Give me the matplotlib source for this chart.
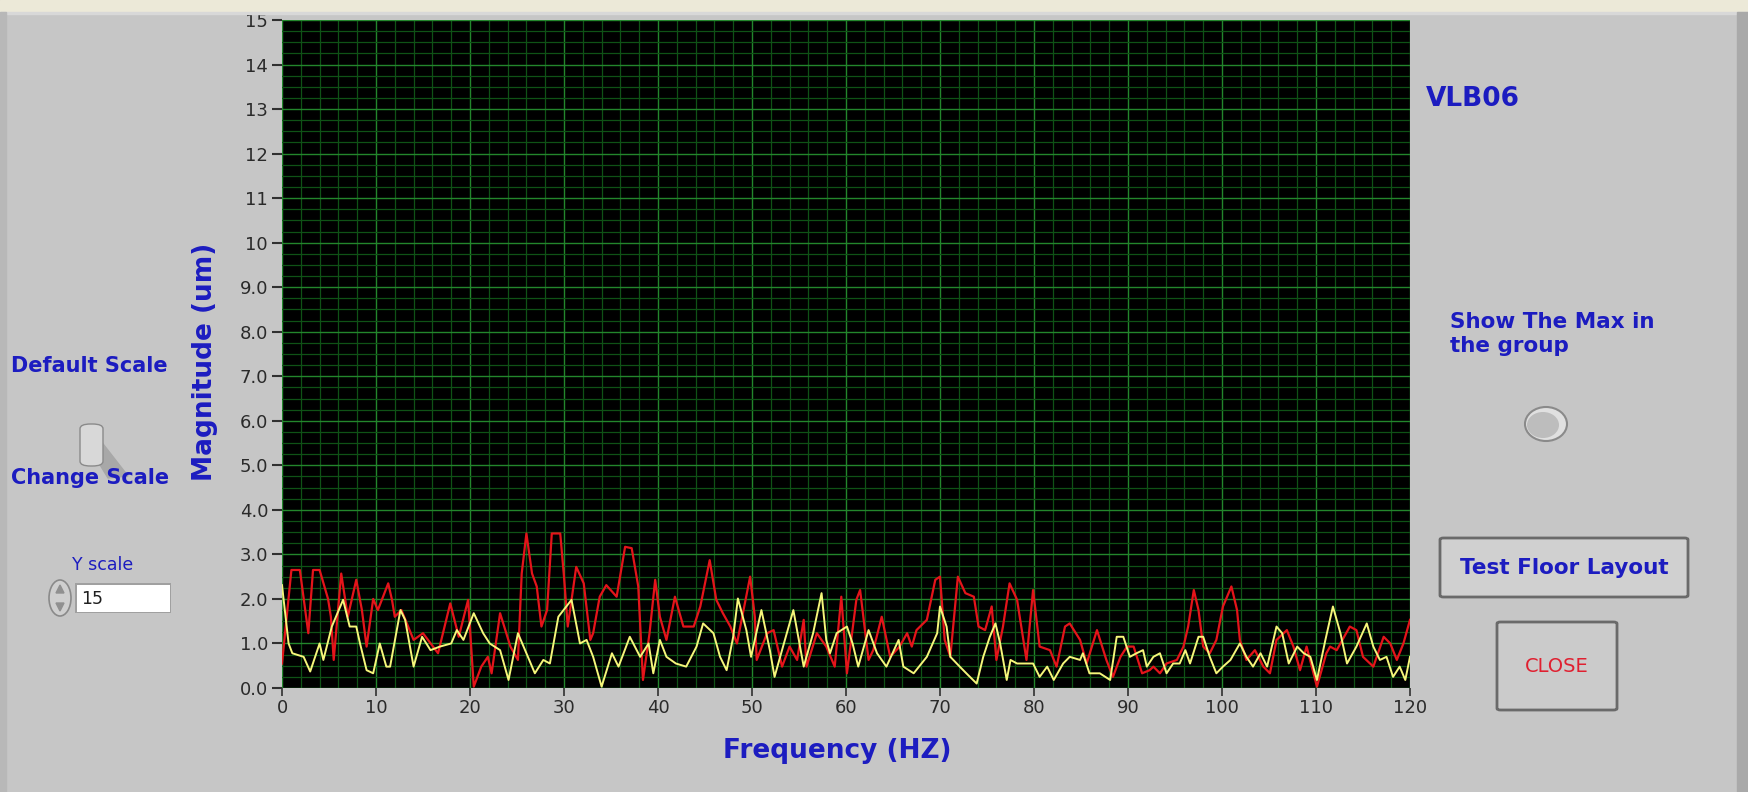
import matplotlib as mplt
mplt.use("Agg")
import matplotlib.pyplot as plt
from matplotlib.patches import FancyBboxPatch, Rectangle, Ellipse, Polygon
import numpy as np

W, H = 1749, 792

PANEL_BG = '#c6c6c6'
TITLE_BAR = '#ece9d8'
LABEL_BLUE = '#1c1cc0'

# Spectrum: (frequency Hz, magnitude um)
red_freq = [0, 1.0, 1.9, 2.8, 3.3, 4.0, 4.9, 5.2, 5.5, 6.3, 7.0, 7.9, 8.5, 9.0, 9.7, 10.2, 11.3, 11.7,
            12.0, 12.7, 14.0, 15.0, 16.6, 17.9, 18.8, 19.8, 20.4, 21.2, 21.9, 22.3, 23.2, 24.3, 25.1,
            25.5, 26.0, 26.6, 27.1, 27.6, 28.2, 28.7, 29.6, 30.0, 30.4, 31.3, 32.1, 32.8, 33.1, 33.8,
            34.5, 35.6, 36.5, 37.2, 37.9, 38.4, 39.1, 39.7, 40.2, 40.9, 41.8, 42.7, 43.8, 44.5, 45.5,
            46.2, 46.9, 47.7, 48.4, 49.8, 50.3, 50.5, 51.6, 52.3, 53.2, 54.0, 54.8, 55.5, 55.8, 56.9,
            57.9, 58.8, 59.5, 60.1, 61.1, 61.5, 62.4, 62.9, 63.8, 64.7, 65.7, 66.5, 67.0, 67.5, 68.6,
            69.5, 70.0, 70.5, 71.1, 71.9, 72.7, 73.6, 74.1, 74.8, 75.5, 76.0, 76.7, 77.4, 78.2, 79.2,
            79.9, 80.6, 81.7, 82.4, 83.3, 83.8, 84.9, 85.6, 86.7, 87.7, 88.4, 89.2, 89.9, 90.6, 91.5,
            92.3, 92.7, 93.4, 94.1, 95.2, 95.9, 96.4, 97.0, 97.5, 98.0, 98.7, 99.4, 100.1, 101.0,
            101.6, 101.9, 102.6, 103.5, 104.4, 105.1, 105.8, 106.9, 107.6, 108.3, 109.0, 110.1,
            111.1, 111.5, 112.2, 113.6, 114.3, 115.0, 116.1, 117.2, 117.9, 118.6, 119.3, 120.0]
red_mag = [0.55, 2.65, 2.65, 1.23, 2.65, 2.65, 2.0, 1.6, 0.63, 2.57, 1.6, 2.43, 1.75, 0.93, 2.0, 1.75, 2.35, 1.98,
           1.6, 1.75, 1.08, 1.23, 0.78, 1.9, 1.15, 1.98, 0.03, 0.48, 0.7, 0.33, 1.68, 0.93, 0.63,
           2.57, 3.47, 2.57, 2.28, 1.38, 1.75, 3.47, 3.47, 2.5, 1.38, 2.72, 2.35, 1.08, 1.23, 2.05,
           2.31, 2.05, 3.17, 3.14, 2.28, 0.18, 1.23, 2.43, 1.6, 1.08, 2.05, 1.38, 1.38, 1.83, 2.87,
           1.98, 1.68, 1.38, 1.0, 2.5, 1.6, 0.63, 1.23, 1.3, 0.48, 0.93, 0.63, 1.53, 0.48, 1.23,
           0.93, 0.48, 2.05, 0.33, 1.98, 2.2, 0.63, 0.85, 1.6, 0.7, 0.93, 1.23, 0.93, 1.3, 1.53,
           2.43, 2.5, 1.08, 0.7, 2.5, 2.13, 2.05, 1.38, 1.3, 1.83, 0.63, 1.38, 2.35, 1.98, 0.63,
           2.2, 0.93, 0.85, 0.48, 1.38, 1.45, 1.08, 0.55, 1.3, 0.63, 0.25, 0.7, 0.93, 0.93, 0.33,
           0.4, 0.48, 0.33, 0.55, 0.63, 0.93, 1.38, 2.2, 1.75, 0.93, 0.78, 1.08, 1.83, 2.28,
           1.75, 1.08, 0.63, 0.85, 0.48, 0.33, 1.08, 1.3, 0.93, 0.4, 0.93, 0.03,
           0.78, 0.93, 0.85, 1.38, 1.3, 0.7, 0.48, 1.15, 1.0, 0.63, 1.0, 1.53]

yellow_freq = [0, 0.7, 1.1, 2.3, 3.0, 4.0, 4.4, 5.3, 6.5, 7.2, 7.9, 8.3, 9.0, 9.7, 10.4, 11.1, 11.5, 12.6,
               13.1, 14.0, 14.9, 15.8, 16.8, 18.0, 18.6, 19.3, 20.4, 21.4, 22.1, 23.2, 24.1, 25.1, 25.7,
               26.9, 27.8, 28.5, 29.4, 30.8, 31.7, 32.4, 33.1, 34.0, 35.1, 35.8, 37.0, 38.1, 39.0, 39.5,
               40.2, 40.9, 41.9, 43.0, 44.1, 44.8, 45.9, 46.6, 47.3, 48.0, 48.5, 49.4, 49.9, 51.0, 51.9,
               52.4, 53.3, 54.4, 55.5, 56.5, 57.4, 57.9, 58.3, 59.0, 60.1, 60.7, 61.3, 62.4, 63.3, 64.3,
               65.6, 66.1, 67.2, 68.6, 69.7, 70.0, 70.7, 71.1, 72.1, 72.8, 73.9, 74.6, 75.3, 75.9, 76.4,
               77.1, 77.5, 78.2, 79.2, 79.9, 80.6, 81.4, 82.1, 83.1, 83.8, 84.9, 85.2, 85.9, 87.0, 88.1,
               88.8, 89.5, 90.2, 90.9, 91.6, 92.0, 92.7, 93.4, 94.1, 94.8, 95.5, 96.1, 96.6, 97.5, 98.0,
               98.7, 99.4, 100.1, 100.9, 101.9, 102.6, 103.3, 104.1, 104.8, 105.8, 106.4, 107.1, 108.0,
               108.7, 109.4, 110.1, 111.0, 111.8, 112.6, 113.3, 114.3, 115.4, 116.1, 116.8, 117.5,
               118.2, 118.9, 119.5, 120.0]
yellow_mag = [2.31, 1.0, 0.78, 0.7, 0.37, 1.0, 0.63, 1.38, 1.98, 1.38, 1.38, 1.0, 0.4, 0.33, 1.0, 0.48, 0.48, 1.75,
              1.53, 0.48, 1.15, 0.85, 0.93, 1.0, 1.3, 1.08, 1.68, 1.23, 1.0, 0.85, 0.18, 1.23, 0.93,
              0.33, 0.63, 0.55, 1.6, 1.98, 1.0, 1.08, 0.7, 0.03, 0.78, 0.48, 1.15, 0.7, 1.0, 0.33,
              1.08, 0.7, 0.55, 0.48, 0.93, 1.45, 1.23, 0.7, 0.4, 1.15, 2.01, 1.3, 0.7, 1.75, 0.85,
              0.25, 0.93, 1.75, 0.48, 1.23, 2.13, 1.08, 0.78, 1.23, 1.38, 1.0, 0.48, 1.3, 0.78, 0.48,
              1.08, 0.48, 0.33, 0.7, 1.23, 1.83, 1.38, 0.7, 0.48, 0.33, 0.1, 0.7, 1.15, 1.45, 1.0,
              0.18, 0.63, 0.55, 0.55, 0.55, 0.25, 0.48, 0.18, 0.55, 0.7, 0.63, 0.78, 0.33, 0.33, 0.18,
              1.15, 1.15, 0.7, 0.78, 0.85, 0.48, 0.7, 0.78, 0.33, 0.55, 0.55, 0.85, 0.55, 1.15, 1.15,
              0.7, 0.33, 0.48, 0.63, 1.0, 0.7, 0.48, 0.78, 0.48, 1.38, 1.23, 0.55, 0.93,
              0.78, 0.7, 0.18, 1.08, 1.83, 1.23, 0.55, 0.93, 1.45, 0.93, 0.63, 0.7,
              0.25, 0.48, 0.18, 0.7]

y_ticks = list(range(16))
y_tick_labels = ['0.0', '1.0', '2.0', '3.0', '4.0', '5.0', '6.0', '7.0', '8.0', '9.0',
                 '10', '11', '12', '13', '14', '15']
x_ticks = list(range(0, 121, 10))


def fx(px):
    """Screenshot pixel column -> figure fraction."""
    return px / W


def fy(py):
    """Screenshot pixel row (from the top) -> figure fraction."""
    return 1 - py / H


def box(fig, x0, y0, x1, y1, **kw):
    """Rounded box given in screenshot pixels (top-left, bottom-right)."""
    p = FancyBboxPatch((fx(x0), fy(y1)), fx(x1) - fx(x0), fy(y0) - fy(y1),
                       boxstyle=kw.pop('boxstyle', 'round,pad=0,rounding_size=0.002'),
                       transform=fig.transFigure, **kw)
    fig.patches.append(p)
    return p


def rect(fig, x0, y0, x1, y1, **kw):
    p = Rectangle((fx(x0), fy(y1)), fx(x1) - fx(x0), fy(y0) - fy(y1), transform=fig.transFigure, **kw)
    fig.patches.append(p)
    return p


fig = plt.figure(figsize=(W / 100, H / 100), dpi=100, facecolor=PANEL_BG)

# window chrome: beige strip on top, darker frame on the right
rect(fig, 0, 0, W, 12, color=TITLE_BAR, zorder=0)
rect(fig, 0, 12, W, 14, color='#d8d8d8', zorder=0)
rect(fig, 1737, 12, W, H, color='#a9a9a9', zorder=0)
rect(fig, 0, 12, 6, H, color='#b8b8b8', zorder=0)

# --- the spectrum graph ---
ax = fig.add_axes([fx(282), fy(688), fx(1410) - fx(282), fy(20) - fy(688)])
ax.set_facecolor('black')
ax.set_xlim(0, 120)
ax.set_ylim(0, 15)

ax.set_xticks(np.arange(0, 121, 2), minor=True)
ax.set_yticks(np.arange(0, 15.01, 0.25), minor=True)
ax.grid(True, which='minor', color='#0f5216', linewidth=0.9)
ax.grid(True, which='major', color='#23862c', linewidth=1.0)
ax.set_axisbelow(True)

ax.plot(red_freq, red_mag, color='#e4141a', linewidth=1.6, zorder=3)
ax.plot(yellow_freq, yellow_mag, color='#f6f67a', linewidth=1.4, zorder=4)

ax.set_yticks(y_ticks)
ax.set_yticklabels(y_tick_labels)
ax.set_xticks(x_ticks)
ax.tick_params(axis='y', which='major', length=7, width=1.5, color='#303030',
               labelsize=13, labelcolor='#2a2a2a', pad=3)
ax.tick_params(axis='x', which='major', length=6, width=1.2, color='#303030',
               labelsize=13, labelcolor='#2a2a2a', pad=2)
ax.tick_params(which='minor', length=0)
for s in ax.spines.values():
    s.set_visible(False)

fig.text(fx(205), fy(362), 'Magnitude (um)', rotation=90, ha='center', va='center',
         fontsize=19, fontweight='bold', color=LABEL_BLUE)
fig.text(fx(837), fy(751), 'Frequency (HZ)', ha='center', va='center',
         fontsize=19, fontweight='bold', color=LABEL_BLUE)

# --- left hand controls ---
bold = dict(fontsize=15, fontweight='bold', color=LABEL_BLUE, va='center')
fig.text(fx(11), fy(366), 'Default Scale', ha='left', **bold)
fig.text(fx(11), fy(478), 'Change Scale', ha='left', **bold)

# toggle switch with its shadow
fig.patches.append(Polygon([(fx(88), fy(445)), (fx(100), fy(440)), (fx(128), fy(476)), (fx(108), fy(478))],
                           closed=True, transform=fig.transFigure, color='#a8a8a8', zorder=1))
box(fig, 80, 424, 103, 466, boxstyle='round,pad=0,rounding_size=0.006',
    facecolor='#d8d8d8', edgecolor='#8a8a8a', linewidth=1, zorder=2)

fig.text(fx(103), fy(565), 'Y scale', ha='center', va='center', fontsize=12.5, color=LABEL_BLUE)
rect(fig, 75, 583, 171, 613, facecolor='#a0a0a0', edgecolor='none', zorder=1)
rect(fig, 77, 585, 170, 612, facecolor='white', edgecolor='none', zorder=2)
fig.text(fx(81), fy(599), '15', ha='left', va='center', fontsize=12.5, color='#202020')
fig.patches.append(Ellipse((fx(60), fy(598)), fx(22), 36 / H, transform=fig.transFigure,
                           facecolor='#cfcfcf', edgecolor='#8a8a8a', linewidth=1.2, zorder=2))
fig.patches.append(Polygon([(fx(56), fy(593)), (fx(64), fy(593)), (fx(60), fy(585))], closed=True,
                           transform=fig.transFigure, color='#909090', zorder=3))
fig.patches.append(Polygon([(fx(56), fy(603)), (fx(64), fy(603)), (fx(60), fy(611))], closed=True,
                           transform=fig.transFigure, color='#909090', zorder=3))

# --- right hand controls ---
fig.text(fx(1426), fy(99), 'VLB06', ha='left', va='center', fontsize=19, fontweight='bold', color=LABEL_BLUE)
fig.text(fx(1450), fy(334), 'Show The Max in\nthe group', ha='left', va='center',
         fontsize=15.5, fontweight='bold', color=LABEL_BLUE, linespacing=1.25)
fig.patches.append(Ellipse((fx(1546), fy(424)), fx(42), 34 / H, transform=fig.transFigure,
                           facecolor='#e0e0e0', edgecolor='#8a8a8a', linewidth=1.5, zorder=2))
fig.patches.append(Ellipse((fx(1543), fy(425)), fx(32), 26 / H, transform=fig.transFigure,
                           facecolor='#bdbdbd', edgecolor='none', zorder=3))

box(fig, 1440, 538, 1688, 597, facecolor='#d0d0d0', edgecolor='#6a6a6a', linewidth=2, zorder=2)
fig.text(fx(1564), fy(568), 'Test Floor Layout', ha='center', va='center',
         fontsize=15.5, fontweight='bold', color=LABEL_BLUE)

box(fig, 1497, 622, 1617, 710, facecolor='#cbcbcb', edgecolor='#6a6a6a', linewidth=2, zorder=2)
fig.text(fx(1557), fy(667), 'CLOSE', ha='center', va='center', fontsize=14, color='#e02030')

plt.savefig('out.png', dpi=100, facecolor=fig.get_facecolor())
plt.close()
